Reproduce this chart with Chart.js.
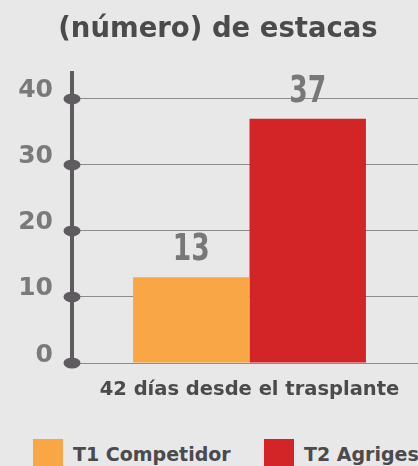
<!DOCTYPE html>
<html>
<head>
<meta charset="utf-8">
<script src="https://cdn.jsdelivr.net/npm/chart.js@4.4.1/dist/chart.umd.min.js"></script>
<style>
  html, body { margin: 0; padding: 0; background: #e8e8e8; overflow: hidden; width: 418px; height: 466px; }
  #wrap { position: absolute; left: 0; top: 0; width: 436px; height: 406px; }
  #legend { position: absolute; left: 33px; top: 439px; display: flex; flex-direction: row; white-space: nowrap; }
  #legend .item { display: flex; align-items: center; width: 231px; height: 30px; }
  #legend .box { width: 30px; height: 30px; flex: none; }
  #legend .txt { margin-left: 10px; font: bold 19px 'DejaVu Sans', sans-serif; color: #4b4a4c; line-height: 30px; }
</style>
</head>
<body>
<div id="wrap"><canvas id="c" width="436" height="406"></canvas></div>
<div id="legend"></div>
<script>
const categories = ['42 días desde el trasplante'];
const seriesNames = ['T1 Competidor', 'T2 Agriges'];
const t1Values = [13];
const t2Values = [37];
const yTicks = [0, 10, 20, 30, 40];
const chartTitle = '(número) de estacas';

const AXIS_COLOR = '#5f5c60';

const axisDots = {
  id: 'axisDots',
  afterDraw(chart) {
    const ctx = chart.ctx;
    const y = chart.scales.y;
    const x0 = chart.chartArea.left;
    ctx.save();
    ctx.fillStyle = AXIS_COLOR;
    y.ticks.forEach(t => {
      const py = y.getPixelForValue(t.value);
      ctx.beginPath();
      ctx.ellipse(x0, py, 8.5, 5.5, 0, 0, Math.PI * 2);
      ctx.fill();
    });
    ctx.restore();
  }
};

const valueLabels = {
  id: 'valueLabels',
  afterDatasetsDraw(chart) {
    const ctx = chart.ctx;
    ctx.save();
    ctx.font = "bold 37px 'DejaVu Sans', sans-serif";
    ctx.fillStyle = '#78777a';
    ctx.textAlign = 'center';
    ctx.textBaseline = 'alphabetic';
    chart.data.datasets.forEach((ds, i) => {
      const meta = chart.getDatasetMeta(i);
      meta.data.forEach((bar, j) => {
        ctx.fillText(String(ds.data[j]), bar.x, bar.y - 17, 37);
      });
    });
    ctx.restore();
  }
};

const htmlLegend = {
  id: 'htmlLegend',
  afterUpdate(chart) {
    const el = document.getElementById('legend');
    el.innerHTML = '';
    const items = chart.options.plugins.legend.labels.generateLabels(chart);
    items.forEach(it => {
      const d = document.createElement('div');
      d.className = 'item';
      const b = document.createElement('span');
      b.className = 'box';
      b.style.background = it.fillStyle;
      const t = document.createElement('span');
      t.className = 'txt';
      t.textContent = it.text;
      d.appendChild(b);
      d.appendChild(t);
      el.appendChild(d);
    });
  }
};

new Chart(document.getElementById('c'), {
  type: 'bar',
  data: {
    labels: categories,
    datasets: [
      { label: seriesNames[0], data: t1Values, backgroundColor: '#f9a646', borderWidth: 0 },
      { label: seriesNames[1], data: t2Values, backgroundColor: '#d32528', borderWidth: 0 }
    ]
  },
  options: {
    responsive: false,
    animation: false,
    devicePixelRatio: 1,
    layout: { padding: 0 },
    categoryPercentage: 0.656,
    barPercentage: 1,
    plugins: {
      tooltip: { enabled: false },
      legend: { display: false },
      title: {
        display: true,
        text: chartTitle,
        color: '#4b4a4c',
        font: { family: 'DejaVu Sans', weight: 'bold', size: 27.5, lineHeight: 1.2 },
        padding: { top: 13.5, bottom: 26 }
      }
    },
    scales: {
      x: {
        grid: { display: false, drawTicks: false },
        border: { display: false },
        ticks: {
          padding: 15.3,
          color: '#4b4a4c',
          maxRotation: 0,
          autoSkip: false,
          font: { family: 'DejaVu Sans', weight: 'bold', size: 19.5, lineHeight: 1.2 }
        },
        afterFit(s) { s.height = 43; }
      },
      y: {
        min: 0,
        max: 44,
        afterBuildTicks(s) { s.ticks = yTicks.map(v => ({ value: v })); },
        grid: { color: '#8c8c8c', lineWidth: 1, drawTicks: false },
        border: { display: true, color: AXIS_COLOR, width: 4 },
        ticks: {
          padding: 19,
          labelOffset: -8,
          color: '#7a797b',
          font: { family: 'DejaVu Sans', weight: 'bold', size: 25 }
        },
        afterFit(s) { s.width = 72; }
      },
      yR: {
        position: 'right',
        display: true,
        grid: { display: false, drawTicks: false },
        border: { display: false },
        ticks: { display: false },
        afterFit(s) { s.width = 9; }
      }
    }
  },
  plugins: [axisDots, valueLabels, htmlLegend]
});
</script>
</body>
</html>
